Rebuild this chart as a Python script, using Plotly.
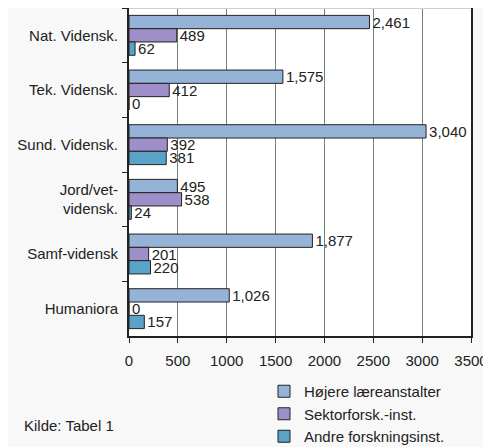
import plotly.graph_objects as go

categories = ["Nat. Vidensk.", "Tek. Vidensk.", "Sund. Vidensk.",
              "Jord/vet-<br>vidensk.", "Samf-vidensk", "Humaniora"]
series_names = ["Højere læreanstalter", "Sektorforsk.-inst.", "Andre forskningsinst."]
hojere = [2461, 1575, 3040, 495, 1877, 1026]
sektor = [489, 412, 392, 538, 201, 0]
andre = [62, 0, 381, 24, 220, 157]
x_ticks = [0, 500, 1000, 1500, 2000, 2500, 3000, 3500]

colors = ["#95B3D7", "#9E8FC8", "#5AA2C8"]
font = "Liberation Sans, Arial, sans-serif"

# page body has an 8px margin, so figure coords = screen coords - 8
L, R, T, B = 121, 28, 0, 119
W, H = 491, 447
pw, ph = W - L - R, H - T - B

fig = go.Figure()
for i, (name, vals) in enumerate(zip(series_names, [hojere, sektor, andre])):
    fig.add_trace(go.Bar(
        y=categories, x=vals, name=name, orientation="h",
        marker=dict(color=colors[i], line=dict(color="#222222", width=1)),
        texttemplate="%{x:,}", textposition="outside", constraintext="none",
        cliponaxis=False,
        textfont=dict(family=font, size=15, color="#222222"),
        legendgroup=f"g{i}",
    ))

fig.update_layout(
    width=W, height=H,
    barmode="group", bargap=0.27, bargroupgap=0,
    paper_bgcolor="#f8f8f8", plot_bgcolor="white",
    margin=dict(l=L, r=R, t=T, b=B, autoexpand=False),
    font=dict(family=font, size=15, color="#222222"),
    showlegend=True,
    legend=dict(x=(256 - L) / pw, y=-(39 / ph), xanchor="left", yanchor="top",
                traceorder="normal", tracegroupgap=4,
                bgcolor="rgba(0,0,0,0)", font=dict(size=15),
                itemwidth=30),
    annotations=[dict(text="Kilde: Tabel 1", xref="paper", yref="paper",
                      x=(14 - L) / pw, y=-((417 - T - ph) / ph), xanchor="left",
                      yanchor="middle", showarrow=False, font=dict(size=15))],
    shapes=[
        dict(type="line", xref="paper", yref="paper", x0=0, x1=1, y0=1, y1=1,
             line=dict(color="#d0d0d0", width=2)),
    ],
)
fig.update_xaxes(range=[0, 3500], tickvals=x_ticks, ticktext=[str(v) for v in x_ticks],
                 showgrid=True, gridcolor="#6f827a", gridwidth=1,
                 showline=True, linecolor="#222222", linewidth=2, mirror=False,
                 ticks="outside", ticklen=5, tickcolor="#222222",
                 zeroline=False, ticklabelstandoff=5, automargin=False)
fig.update_yaxes(autorange="reversed", showline=True, linecolor="#222222", linewidth=2,
                 mirror=True, ticks="outside", ticklen=5, tickcolor="#222222",
                 tickson="boundaries", showgrid=False, ticklabelstandoff=6,
                 automargin=False)

fig.write_html("out.html")
